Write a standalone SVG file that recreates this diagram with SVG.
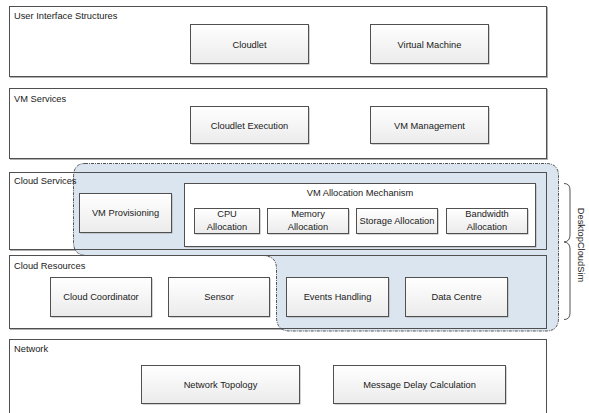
<svg xmlns="http://www.w3.org/2000/svg" width="589" height="413" viewBox="0 0 589 413">
<defs>
<linearGradient id="g" x1="0" y1="0" x2="0" y2="1">
<stop offset="0" stop-color="#ffffff"/>
<stop offset="1" stop-color="#ebebeb"/>
</linearGradient>
<style>
.layer{fill:none;stroke:#505050;stroke-width:1}
.lbg{fill:#ffffff}
.lsh{fill:none;stroke:#b0b0b0;stroke-width:1}
.node{fill:url(#g);stroke:#505050;stroke-width:1}
.sh{fill:#a8a8a8}
.t{font-family:"Liberation Sans",Arial,sans-serif;font-size:9.3px;fill:#1a1a1a}
.c{text-anchor:middle}
.region{fill:#dbe5f0;stroke:#404040;stroke-width:0.9;stroke-dasharray:3 1 1 1}
.brace{fill:none;stroke:#404040;stroke-width:0.9}
</style>
</defs>
<rect width="589" height="413" fill="#ffffff"/>

<g id="layer-backgrounds">
<rect class="lsh" x="10.5" y="7.5" width="537" height="70"/>
<rect class="lbg" x="9.5" y="6.5" width="537" height="70"/>
<rect class="lsh" x="10.5" y="89.5" width="537" height="70"/>
<rect class="lbg" x="9.5" y="88.5" width="537" height="70"/>
<rect class="lsh" x="10.5" y="173.5" width="537" height="77"/>
<rect class="lbg" x="9.5" y="172.5" width="537" height="77"/>
<rect class="lsh" x="10.5" y="256.5" width="537" height="73"/>
<rect class="lbg" x="9.5" y="255.5" width="537" height="73"/>
<rect class="lbg" x="9.5" y="339.5" width="537" height="80"/>
</g>

<g id="desktopcloudsim-region">
<path class="region" d="M85,163.5 H546 Q558.5,163.5 558.5,176 V318 Q558.5,331 546,331 H290 Q276.5,331 276.5,317 V269 Q276.5,255.5 262,255.5 H87 Q73.5,255.5 73.5,242 V177 Q73.5,163.5 85,163.5 Z"/>
</g>

<g id="layer-user-interface">
<rect class="layer" x="9.5" y="6.5" width="537" height="70"/>
<text class="t" x="14" y="19">User Interface Structures</text>
</g>
<g id="layer-vm-services">
<rect class="layer" x="9.5" y="88.5" width="537" height="70"/>
<text class="t" x="14" y="102">VM Services</text>
</g>
<g id="layer-cloud-services">
<rect class="layer" x="9.5" y="172.5" width="537" height="77"/>
<text class="t" x="14" y="184">Cloud Services</text>
</g>
<g id="layer-cloud-resources">
<rect class="layer" x="9.5" y="255.5" width="537" height="73"/>
<text class="t" x="14" y="269">Cloud Resources</text>
</g>
<g id="layer-network">
<rect class="layer" x="9.5" y="339.5" width="537" height="80"/>
<text class="t" x="14" y="352">Network</text>
</g>

<g id="node-cloudlet">
<rect class="sh" x="191.5" y="25.5" width="118" height="39"/>
<rect class="node" x="190.5" y="24.5" width="118" height="39"/>
<text class="t c" x="249.5" y="47.5">Cloudlet</text>
</g>
<g id="node-virtual-machine">
<rect class="sh" x="371.5" y="25.5" width="118" height="39"/>
<rect class="node" x="370.5" y="24.5" width="118" height="39"/>
<text class="t c" x="429.5" y="47.5">Virtual Machine</text>
</g>
<g id="node-cloudlet-execution">
<rect class="sh" x="191.5" y="107.5" width="118" height="37"/>
<rect class="node" x="190.5" y="106.5" width="118" height="37"/>
<text class="t c" x="249.5" y="128.5">Cloudlet Execution</text>
</g>
<g id="node-vm-management">
<rect class="sh" x="371.5" y="107.5" width="118" height="37"/>
<rect class="node" x="370.5" y="106.5" width="118" height="37"/>
<text class="t c" x="429.5" y="128.5">VM Management</text>
</g>

<g id="node-vm-provisioning">
<rect class="sh" x="80.5" y="194.5" width="92" height="39"/>
<rect class="node" x="79.5" y="193.5" width="92" height="39"/>
<text class="t c" x="125.5" y="216">VM Provisioning</text>
</g>
<g id="node-vm-allocation-mechanism">
<rect class="sh" x="185.5" y="184.5" width="351" height="63"/>
<rect x="184.5" y="183.5" width="351" height="63" fill="#ffffff" stroke="#505050"/>
<text class="t c" x="360" y="196">VM Allocation Mechanism</text>
</g>
<g id="node-cpu-allocation">
<rect class="sh" x="195.5" y="209.5" width="65" height="25"/>
<rect class="node" x="194.5" y="208.5" width="65" height="25"/>
<text class="t c" x="227" y="217">CPU</text>
<text class="t c" x="227" y="229.5">Allocation</text>
</g>
<g id="node-memory-allocation">
<rect class="sh" x="268.5" y="209.5" width="81" height="25"/>
<rect class="node" x="267.5" y="208.5" width="81" height="25"/>
<text class="t c" x="308" y="217">Memory</text>
<text class="t c" x="308" y="229.5">Allocation</text>
</g>
<g id="node-storage-allocation">
<rect class="sh" x="357.5" y="209.5" width="81" height="25"/>
<rect class="node" x="356.5" y="208.5" width="81" height="25"/>
<text class="t c" x="397" y="224">Storage Allocation</text>
</g>
<g id="node-bandwidth-allocation">
<rect class="sh" x="447.5" y="209.5" width="81" height="25"/>
<rect class="node" x="446.5" y="208.5" width="81" height="25"/>
<text class="t c" x="487" y="217">Bandwidth</text>
<text class="t c" x="487" y="229.5">Allocation</text>
</g>

<g id="node-cloud-coordinator">
<rect class="sh" x="51.5" y="278.5" width="101" height="39"/>
<rect class="node" x="50.5" y="277.5" width="101" height="39"/>
<text class="t c" x="101" y="300">Cloud Coordinator</text>
</g>
<g id="node-sensor">
<rect class="sh" x="169.5" y="278.5" width="101" height="39"/>
<rect class="node" x="168.5" y="277.5" width="101" height="39"/>
<text class="t c" x="219" y="300">Sensor</text>
</g>
<g id="node-events-handling">
<rect class="sh" x="287.5" y="278.5" width="102" height="39"/>
<rect class="node" x="286.5" y="277.5" width="102" height="39"/>
<text class="t c" x="337.5" y="300">Events Handling</text>
</g>
<g id="node-data-centre">
<rect class="sh" x="406.5" y="278.5" width="102" height="39"/>
<rect class="node" x="405.5" y="277.5" width="102" height="39"/>
<text class="t c" x="456.5" y="300">Data Centre</text>
</g>

<g id="node-network-topology">
<rect class="sh" x="142.5" y="366.5" width="158" height="38"/>
<rect class="node" x="141.5" y="365.5" width="158" height="38"/>
<text class="t c" x="220.5" y="387.5">Network Topology</text>
</g>
<g id="node-message-delay">
<rect class="sh" x="334.5" y="366.5" width="172" height="38"/>
<rect class="node" x="333.5" y="365.5" width="172" height="38"/>
<text class="t c" x="419.5" y="387.5">Message Delay Calculation</text>
</g>

<g id="connectors">
<path class="brace" d="M564,183.5 Q570,183.5 570,190 V235 Q570,241.5 564,242 Q570,242.5 570,249 V313 Q570,319.5 564,319.5"/>
</g>

<g id="label-desktopcloudsim">
<text class="t c" transform="translate(578,245) rotate(90)">DesktopCloudSim</text>
</g>
</svg>
